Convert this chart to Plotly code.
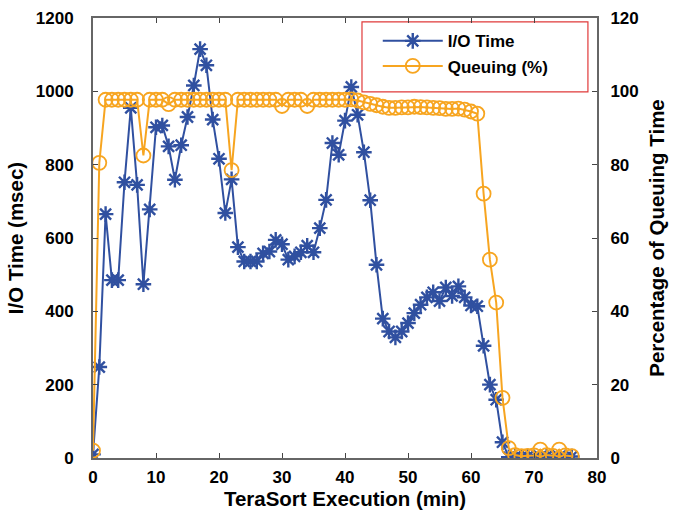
import plotly.graph_objects as go

minutes = list(range(0, 77))

io_time = [10, 248, 665, 485, 485, 752, 955, 745, 474, 678,
           902, 907, 850, 759, 853, 930, 1016, 1115, 1071, 923,
           816, 668, 760, 575, 536, 536, 536, 558, 563, 595,
           583, 541, 550, 561, 579, 561, 627, 704, 859, 827,
           920, 1012, 936, 834, 703, 527, 380, 345, 329, 345,
           368, 395, 418, 438, 452, 428, 465, 442, 468, 438,
           416, 414, 306, 200, 159, 43, 2, 3, 2, 4,
           2, 3, 5, 2, 3, 2, 4]

queuing = [2, 80.5, 97.7, 97.7, 97.7, 97.7, 97.7, 97.7, 82.5, 97.7,
           97.7, 97.7, 96.5, 97.7, 97.7, 97.7, 97.7, 97.7, 97.7, 97.7,
           97.7, 97.7, 78.5, 97.7, 97.7, 97.7, 97.7, 97.7, 97.7, 97.7,
           96.0, 97.7, 97.7, 97.7, 96.0, 97.7, 97.7, 97.7, 97.7, 97.7,
           97.7, 97.8, 97.5, 97.0, 96.6, 96.2, 95.8, 95.5, 95.5, 95.6,
           95.6, 95.8, 95.7, 95.6, 95.5, 95.4, 95.2, 95.2, 95.3, 95.0,
           94.5, 93.9, 72.1, 54.1, 42.4, 16.4, 2.7, 0.8, 0.5, 0.6,
           0.7, 2.3, 0.8, 0.6, 2.3, 0.7, 0.5]

blue = "#3050a0"
orange = "#f7a520"
font_family = "Liberation Sans, Arial, sans-serif"
title_font = dict(family=font_family, size=20.5, color="black", weight="bold")

fig = go.Figure()
fig.add_trace(go.Scatter(
    x=minutes, y=io_time, name="I/O Time", mode="lines+markers",
    line=dict(color=blue, width=2),
    marker=dict(symbol="asterisk-open", size=13, color=blue,
                line=dict(color=blue, width=2.4)),
))
fig.add_trace(go.Scatter(
    x=minutes, y=queuing, name="Queuing (%)", mode="lines+markers",
    yaxis="y2",
    line=dict(color=orange, width=2),
    marker=dict(symbol="circle-open", size=14, color=orange,
                line=dict(color=orange, width=1.8)),
))

axis_common = dict(
    showgrid=False, zeroline=False, ticks="inside", ticklen=5,
    tickcolor="#444", linecolor="#666", linewidth=2, showline=True,
    automargin=False,
    tickfont=dict(family=font_family, size=17, color="black", weight="bold"),
)

fig.update_layout(
    width=675, height=510,
    margin=dict(l=93, r=78, t=18, b=52),
    plot_bgcolor="white", paper_bgcolor="white",
    font=dict(family=font_family, color="black"),
    xaxis=dict(range=[0, 80], dtick=10, mirror="ticks", ticklabelstandoff=3,
               title=dict(text="TeraSort Execution (min)", standoff=6,
                          font=title_font),
               **axis_common),
    yaxis=dict(range=[0, 1200], dtick=200, ticklabelstandoff=14,
               title=dict(text="I/O Time (msec)", standoff=7,
                          font=title_font),
               **axis_common),
    yaxis2=dict(range=[0, 120], dtick=20, overlaying="y", side="right",
                ticklabelstandoff=8,
                title=dict(text="Percentage of Queuing Time", standoff=12,
                           font=title_font),
                **axis_common),
    legend=dict(x=0.565, y=0.988, xanchor="left", yanchor="top",
                bgcolor="rgba(255,255,255,0)", borderwidth=0,
                font=dict(family=font_family, size=17, color="black", weight="bold"),
                itemwidth=60, tracegroupgap=0),
    showlegend=True,
    shapes=[dict(type="rect", xref="paper", yref="paper",
                 x0=0.5337, x1=0.982, y0=0.832, y1=0.991,
                 line=dict(color="#e03a3a", width=1.2),
                 fillcolor="white", layer="below")],
)

fig.write_html("out.html")
